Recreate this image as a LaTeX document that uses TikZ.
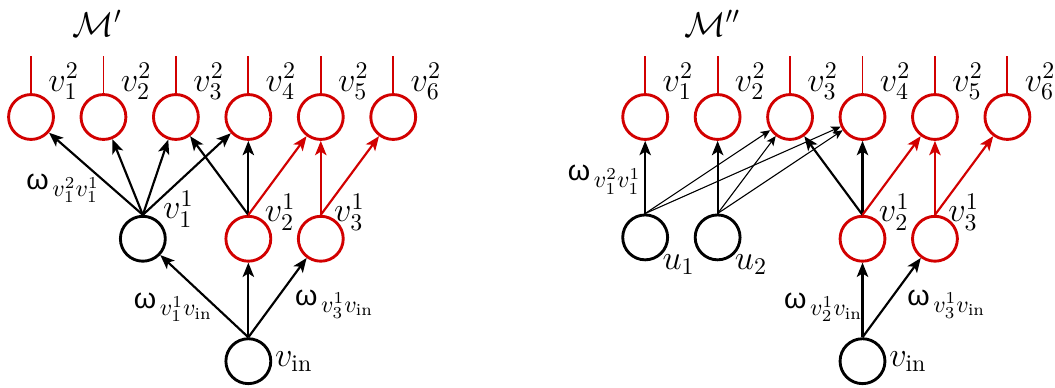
\documentclass[tikz,border=0pt]{standalone}
\usepackage{fontspec}
\usetikzlibrary{arrows.meta}
\newfontfamily\wfont{Liberation Sans}
\newcommand{\wgt}{\mbox{\large\wfont ω\hspace{1.5pt}}}
\definecolor{netred}{RGB}{210,0,0}
\begin{document}
\begin{tikzpicture}[every node/.style={font=\Large},
		neuron/.style={circle, draw, line width=1.2pt, minimum size=0.66cm, inner sep=0pt},
		outn/.style={neuron, draw=netred},
		lbl/.style={anchor=south west, inner sep=0pt},
		wlbl/.style={inner sep=0pt},
		wire/.style={-{Stealth[length=6pt,width=4.8pt,inset=1.5pt]}, line width=0.9pt},
		fine/.style={-{Stealth[length=4pt,width=3.5pt,inset=1pt]}, line width=0.45pt}]
		\useasboundingbox (0,0) rectangle (15.51,-5.69);
		% left network
		\node (Ma) at (1.43,-0.34) {$\mathcal{M}'$};
		\node[outn, label={[lbl]45:$v_1^2$}] (T1a) at (0.456,-1.72) {};
		\node[outn, label={[lbl]45:$v_2^2$}] (T2a) at (1.521,-1.72) {};
		\node[outn, label={[lbl]45:$v_3^2$}] (T3a) at (2.586,-1.72) {};
		\node[outn, label={[lbl]45:$v_4^2$}] (T4a) at (3.651,-1.72) {};
		\node[outn, label={[lbl]45:$v_5^2$}] (T5a) at (4.716,-1.72) {};
		\node[outn, label={[lbl]45:$v_6^2$}] (T6a) at (5.781,-1.72) {};
		\node[neuron] (H1a) at (2.10,-3.51) {};
		\node[outn] (H2a) at (3.651,-3.51) {};
		\node[outn] (H3a) at (4.716,-3.51) {};
		\node[neuron, label={[inner sep=1pt]east:$v_{\mathrm{in}}$}] (INa) at (3.651,-5.31) {};
		\node[lbl] (L1a) at ([shift={(0.29,0.16)}]H1a.center) {$v_1^1$};
		\node[lbl] (L2a) at ([shift={(0.235,0.12)}]H2a.center) {$v_2^1$};
		\node[lbl] (L3a) at ([shift={(0.19,0.12)}]H3a.center) {$v_3^1$};
		\node[wlbl] (W1a) at (0.93,-2.77) {$\wgt_{v_1^2v_1^1}$};
		\node[wlbl] (W2a) at (2.55,-4.52) {$\wgt_{v_1^1v_{\mathrm{in}}}$};
		\node[wlbl] (W3a) at (4.92,-4.47) {$\wgt_{v_3^1v_{\mathrm{in}}}$};
		\draw[wire] (INa.north) -- (H1a);
		\draw[wire] (INa.north) -- (H2a);
		\draw[wire] (INa.north) -- (H3a);
		\draw[wire] (H1a.north) -- (T1a);
		\draw[wire] (H1a.north) -- (T2a);
		\draw[wire] (H1a.north) -- (T3a);
		\draw[wire] (H1a.north) -- (T4a);
		\draw[wire] (H2a.north) -- (T3a);
		\draw[wire] (H2a.north) -- (T4a);
		\draw[wire,netred] (H2a.north) -- (T5a);
		\draw[wire,netred] (H3a.north) -- (T5a);
		\draw[wire,netred] (H3a.north) -- (T6a);
		% right network
		\node (Mb) at (10.47,-0.34) {$\mathcal{M}''$};
		\node[outn, label={[lbl]45:$v_1^2$}] (T1b) at (9.485,-1.72) {};
		\node[outn, label={[lbl]45:$v_2^2$}] (T2b) at (10.55,-1.72) {};
		\node[outn, label={[lbl]45:$v_3^2$}] (T3b) at (11.615,-1.72) {};
		\node[outn, label={[lbl]45:$v_4^2$}] (T4b) at (12.68,-1.72) {};
		\node[outn, label={[lbl]45:$v_5^2$}] (T5b) at (13.745,-1.72) {};
		\node[outn, label={[lbl]45:$v_6^2$}] (T6b) at (14.81,-1.72) {};
		\node[neuron, label={[anchor=north west, inner sep=0pt]-45:$u_1$}] (U1b) at (9.485,-3.49) {};
		\node[neuron, label={[anchor=north west, inner sep=0pt]-45:$u_2$}] (U2b) at (10.55,-3.49) {};
		\node[outn] (H2b) at (12.68,-3.51) {};
		\node[outn] (H3b) at (13.745,-3.51) {};
		\node[neuron, label={[inner sep=1pt]east:$v_{\mathrm{in}}$}] (INb) at (12.68,-5.31) {};
		\node[lbl] (L2b) at ([shift={(0.235,0.12)}]H2b.center) {$v_2^1$};
		\node[lbl] (L3b) at ([shift={(0.19,0.12)}]H3b.center) {$v_3^1$};
		\node[wlbl] (W1b) at (8.89,-2.64) {$\wgt_{v_1^2v_1^1}$};
		\node[wlbl] (W2b) at (12.11,-4.52) {$\wgt_{v_2^1v_{\mathrm{in}}}$};
		\node[wlbl] (W3b) at (13.92,-4.47) {$\wgt_{v_3^1v_{\mathrm{in}}}$};
		\draw[wire] (INb.north) -- (H2b);
		\draw[wire] (INb.north) -- (H3b);
		\draw[wire] (U1b.north) -- (T1b);
		\draw[fine] (U1b.north) -- (T3b);
		\draw[fine] (U1b.north) -- (T4b);
		\draw[wire] (U2b.north) -- (T2b);
		\draw[fine] (U2b.north) -- (T3b);
		\draw[fine] (U2b.north) -- (T4b);
		\draw[wire] (H2b.north) -- (T3b);
		\draw[wire] (H2b.north) -- (T4b);
		\draw[wire,netred] (H2b.north) -- (T5b);
		\draw[wire,netred] (H3b.north) -- (T5b);
		\draw[wire,netred] (H3b.north) -- (T6b);
		% output stubs
		\foreach \n in {T1a,T2a,T3a,T4a,T5a,T6a,T1b,T2b,T3b,T4b,T5b,T6b}
			\draw[netred, line width=0.8pt] (\n.north) -- ++(0,0.54);
	\end{tikzpicture}
\end{document}
